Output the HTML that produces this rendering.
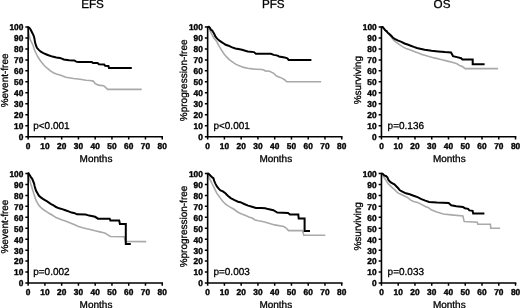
<!DOCTYPE html><html><head><meta charset="utf-8"><style>html,body{margin:0;padding:0;background:#fff;overflow:hidden;width:520px;height:308px;}svg{display:block;filter:blur(0.3px);}text{font-family:"Liberation Sans",sans-serif;text-rendering:geometricPrecision;fill:#000;stroke:#000;stroke-width:0.3px;}text.b{stroke-width:0.4px;}</style></head><body>
<svg width="520" height="308" viewBox="0 0 520 308">
<rect width="520" height="308" fill="#fff"/>
<text x="92.5" y="8.1" font-size="11.7" text-anchor="middle">EFS</text>
<text x="273.3" y="8.1" font-size="11.7" text-anchor="middle">PFS</text>
<text x="442.0" y="8.1" font-size="11.7" text-anchor="middle">OS</text>
<polyline points="28.15,26.95 28.30,29.00 28.60,31.80 29.10,34.40 29.60,37.00 30.20,39.60 31.40,41.80 32.30,44.00 33.00,45.20 34.10,48.80 35.10,51.40 36.40,54.00 37.80,56.80 39.70,59.70 42.20,63.10 44.60,66.00 47.50,68.40 50.40,70.90 53.40,72.80 56.30,74.10 60.00,75.10 65.80,77.30 73.60,78.50 80.10,79.20 86.00,80.20 89.90,80.50 93.20,81.10 95.20,83.50 98.40,85.10 103.60,85.80 105.60,87.40 107.60,89.40 141.70,89.40" fill="none" stroke="#a9a9a9" stroke-width="1.6" stroke-linejoin="miter"/>
<polyline points="28.15,26.95 29.40,27.90 30.40,29.20 31.20,30.80 32.20,32.80 33.30,34.90 34.10,37.00 34.60,39.60 35.10,42.60 35.90,45.20 36.90,47.80 38.80,49.90 40.80,51.70 43.40,53.20 46.50,54.50 48.50,55.30 52.40,56.60 56.30,57.40 60.00,58.00 61.80,58.60 63.80,59.50 69.00,60.30 74.30,60.50 76.20,61.60 78.20,62.10 91.80,62.10 93.10,63.10 97.60,63.10 98.90,64.30 104.10,64.40 105.10,65.70 108.40,65.90 109.00,67.90 131.80,67.90" fill="none" stroke="#000" stroke-width="2" stroke-linejoin="miter"/>
<path d="M28.15,26.95V136.75H162.23" fill="none" stroke="#000" stroke-width="1.6" stroke-linecap="square"/>
<path d="M25.35,136.75H28.15M25.35,125.77H28.15M25.35,114.79H28.15M25.35,103.81H28.15M25.35,92.83H28.15M25.35,81.85H28.15M25.35,70.87H28.15M25.35,59.89H28.15M25.35,48.91H28.15M25.35,37.93H28.15M25.35,26.95H28.15M28.15,136.75V139.45M44.91,136.75V139.45M61.67,136.75V139.45M78.43,136.75V139.45M95.19,136.75V139.45M111.95,136.75V139.45M128.71,136.75V139.45M145.47,136.75V139.45M162.23,136.75V139.45" stroke="#000" stroke-width="1.5" fill="none"/>
<text transform="translate(23.35,140.15) scale(0.98,1)" font-size="8.5" font-weight="bold" class="b" text-anchor="end">0</text>
<text transform="translate(23.35,129.17) scale(0.98,1)" font-size="8.5" font-weight="bold" class="b" text-anchor="end">10</text>
<text transform="translate(23.35,118.19) scale(0.98,1)" font-size="8.5" font-weight="bold" class="b" text-anchor="end">20</text>
<text transform="translate(23.35,107.21) scale(0.98,1)" font-size="8.5" font-weight="bold" class="b" text-anchor="end">30</text>
<text transform="translate(23.35,96.23) scale(0.98,1)" font-size="8.5" font-weight="bold" class="b" text-anchor="end">40</text>
<text transform="translate(23.35,85.25) scale(0.98,1)" font-size="8.5" font-weight="bold" class="b" text-anchor="end">50</text>
<text transform="translate(23.35,74.27) scale(0.98,1)" font-size="8.5" font-weight="bold" class="b" text-anchor="end">60</text>
<text transform="translate(23.35,63.29) scale(0.98,1)" font-size="8.5" font-weight="bold" class="b" text-anchor="end">70</text>
<text transform="translate(23.35,52.31) scale(0.98,1)" font-size="8.5" font-weight="bold" class="b" text-anchor="end">80</text>
<text transform="translate(23.35,41.33) scale(0.98,1)" font-size="8.5" font-weight="bold" class="b" text-anchor="end">90</text>
<text transform="translate(23.35,30.35) scale(0.98,1)" font-size="8.5" font-weight="bold" class="b" text-anchor="end">100</text>
<text transform="translate(28.15,148.75) scale(0.98,1)" font-size="8.5" font-weight="bold" class="b" text-anchor="middle">0</text>
<text transform="translate(44.91,148.75) scale(0.98,1)" font-size="8.5" font-weight="bold" class="b" text-anchor="middle">10</text>
<text transform="translate(61.67,148.75) scale(0.98,1)" font-size="8.5" font-weight="bold" class="b" text-anchor="middle">20</text>
<text transform="translate(78.43,148.75) scale(0.98,1)" font-size="8.5" font-weight="bold" class="b" text-anchor="middle">30</text>
<text transform="translate(95.19,148.75) scale(0.98,1)" font-size="8.5" font-weight="bold" class="b" text-anchor="middle">40</text>
<text transform="translate(111.95,148.75) scale(0.98,1)" font-size="8.5" font-weight="bold" class="b" text-anchor="middle">50</text>
<text transform="translate(128.71,148.75) scale(0.98,1)" font-size="8.5" font-weight="bold" class="b" text-anchor="middle">60</text>
<text transform="translate(145.47,148.75) scale(0.98,1)" font-size="8.5" font-weight="bold" class="b" text-anchor="middle">70</text>
<text transform="translate(162.23,148.75) scale(0.98,1)" font-size="8.5" font-weight="bold" class="b" text-anchor="middle">80</text>
<text transform="translate(7.95,80.40) rotate(-90)" x="0" y="0" font-size="10" text-anchor="middle">%event-free</text>
<text x="33.2" y="128.50" font-size="10">p<0.001</text>
<text x="96.0" y="161.80" font-size="10" text-anchor="middle">Months</text>
<polyline points="207.65,26.95 208.90,27.20 209.90,30.50 211.20,33.10 212.50,35.70 213.80,38.10 214.90,39.30 216.90,41.80 218.80,45.70 221.20,49.60 223.70,53.50 226.60,56.90 229.50,59.90 232.40,61.80 236.00,64.40 239.90,66.10 243.80,67.40 247.70,68.20 252.20,68.90 256.80,69.20 262.00,69.50 263.90,70.00 265.20,70.90 269.60,71.30 273.70,73.30 276.40,76.10 281.80,78.10 285.30,80.20 286.60,81.70 321.20,81.70" fill="none" stroke="#a9a9a9" stroke-width="1.6" stroke-linejoin="miter"/>
<polyline points="207.65,26.95 208.90,26.80 209.90,27.90 210.90,29.80 212.20,30.50 213.10,32.10 214.40,34.10 215.20,36.20 216.90,38.40 219.80,40.90 222.70,42.80 225.60,44.80 228.60,45.70 231.50,47.20 235.40,48.50 238.30,49.10 242.00,49.80 247.70,51.50 253.90,52.10 255.90,53.80 270.90,53.80 273.70,54.90 277.70,55.60 279.10,56.60 284.60,57.40 287.30,58.30 288.70,60.00 311.40,60.00" fill="none" stroke="#000" stroke-width="2" stroke-linejoin="miter"/>
<path d="M207.65,26.95V136.75H341.73" fill="none" stroke="#000" stroke-width="1.6" stroke-linecap="square"/>
<path d="M204.85,136.75H207.65M204.85,125.77H207.65M204.85,114.79H207.65M204.85,103.81H207.65M204.85,92.83H207.65M204.85,81.85H207.65M204.85,70.87H207.65M204.85,59.89H207.65M204.85,48.91H207.65M204.85,37.93H207.65M204.85,26.95H207.65M207.65,136.75V139.45M224.41,136.75V139.45M241.17,136.75V139.45M257.93,136.75V139.45M274.69,136.75V139.45M291.45,136.75V139.45M308.21,136.75V139.45M324.97,136.75V139.45M341.73,136.75V139.45" stroke="#000" stroke-width="1.5" fill="none"/>
<text transform="translate(202.85,140.15) scale(0.98,1)" font-size="8.5" font-weight="bold" class="b" text-anchor="end">0</text>
<text transform="translate(202.85,129.17) scale(0.98,1)" font-size="8.5" font-weight="bold" class="b" text-anchor="end">10</text>
<text transform="translate(202.85,118.19) scale(0.98,1)" font-size="8.5" font-weight="bold" class="b" text-anchor="end">20</text>
<text transform="translate(202.85,107.21) scale(0.98,1)" font-size="8.5" font-weight="bold" class="b" text-anchor="end">30</text>
<text transform="translate(202.85,96.23) scale(0.98,1)" font-size="8.5" font-weight="bold" class="b" text-anchor="end">40</text>
<text transform="translate(202.85,85.25) scale(0.98,1)" font-size="8.5" font-weight="bold" class="b" text-anchor="end">50</text>
<text transform="translate(202.85,74.27) scale(0.98,1)" font-size="8.5" font-weight="bold" class="b" text-anchor="end">60</text>
<text transform="translate(202.85,63.29) scale(0.98,1)" font-size="8.5" font-weight="bold" class="b" text-anchor="end">70</text>
<text transform="translate(202.85,52.31) scale(0.98,1)" font-size="8.5" font-weight="bold" class="b" text-anchor="end">80</text>
<text transform="translate(202.85,41.33) scale(0.98,1)" font-size="8.5" font-weight="bold" class="b" text-anchor="end">90</text>
<text transform="translate(202.85,30.35) scale(0.98,1)" font-size="8.5" font-weight="bold" class="b" text-anchor="end">100</text>
<text transform="translate(207.65,148.75) scale(0.98,1)" font-size="8.5" font-weight="bold" class="b" text-anchor="middle">0</text>
<text transform="translate(224.41,148.75) scale(0.98,1)" font-size="8.5" font-weight="bold" class="b" text-anchor="middle">10</text>
<text transform="translate(241.17,148.75) scale(0.98,1)" font-size="8.5" font-weight="bold" class="b" text-anchor="middle">20</text>
<text transform="translate(257.93,148.75) scale(0.98,1)" font-size="8.5" font-weight="bold" class="b" text-anchor="middle">30</text>
<text transform="translate(274.69,148.75) scale(0.98,1)" font-size="8.5" font-weight="bold" class="b" text-anchor="middle">40</text>
<text transform="translate(291.45,148.75) scale(0.98,1)" font-size="8.5" font-weight="bold" class="b" text-anchor="middle">50</text>
<text transform="translate(308.21,148.75) scale(0.98,1)" font-size="8.5" font-weight="bold" class="b" text-anchor="middle">60</text>
<text transform="translate(324.97,148.75) scale(0.98,1)" font-size="8.5" font-weight="bold" class="b" text-anchor="middle">70</text>
<text transform="translate(341.73,148.75) scale(0.98,1)" font-size="8.5" font-weight="bold" class="b" text-anchor="middle">80</text>
<text transform="translate(187.45,80.30) rotate(-90)" x="0" y="0" font-size="10" text-anchor="middle">%progression-free</text>
<text x="213.4" y="128.50" font-size="10">p<0.001</text>
<text x="275.8" y="161.80" font-size="10" text-anchor="middle">Months</text>
<polyline points="381.45,26.95 382.60,26.90 383.90,28.50 385.20,30.20 386.50,31.30 387.80,33.00 389.10,34.40 390.40,36.00 391.70,37.60 393.60,40.20 396.70,42.60 399.80,44.90 402.90,46.90 406.00,48.40 409.10,49.60 412.30,50.80 415.40,51.90 418.50,53.10 422.00,54.50 427.40,56.10 434.20,57.90 440.90,59.50 447.60,61.10 453.00,62.50 457.00,63.80 459.70,65.60 462.40,66.50 465.10,68.60 498.10,68.60" fill="none" stroke="#a9a9a9" stroke-width="1.6" stroke-linejoin="miter"/>
<polyline points="381.45,26.95 382.60,26.90 383.90,28.50 385.20,30.20 386.50,31.10 387.80,32.80 389.10,33.70 390.40,35.00 391.70,36.30 393.00,37.80 395.10,39.10 398.20,40.60 401.40,41.80 404.50,43.50 407.60,44.50 410.70,45.70 413.80,46.90 416.90,48.00 420.10,48.70 424.70,49.80 431.50,50.70 438.20,51.40 444.90,52.10 451.00,52.50 452.30,54.80 453.00,56.10 457.00,57.10 461.10,58.20 462.40,59.50 472.70,59.50 472.70,64.20 484.60,64.20" fill="none" stroke="#000" stroke-width="2" stroke-linejoin="miter"/>
<path d="M381.45,26.95V136.75H515.53" fill="none" stroke="#000" stroke-width="1.6" stroke-linecap="square"/>
<path d="M378.65,136.75H381.45M378.65,125.77H381.45M378.65,114.79H381.45M378.65,103.81H381.45M378.65,92.83H381.45M378.65,81.85H381.45M378.65,70.87H381.45M378.65,59.89H381.45M378.65,48.91H381.45M378.65,37.93H381.45M378.65,26.95H381.45M381.45,136.75V139.45M398.21,136.75V139.45M414.97,136.75V139.45M431.73,136.75V139.45M448.49,136.75V139.45M465.25,136.75V139.45M482.01,136.75V139.45M498.77,136.75V139.45M515.53,136.75V139.45" stroke="#000" stroke-width="1.5" fill="none"/>
<text transform="translate(376.65,140.15) scale(0.98,1)" font-size="8.5" font-weight="bold" class="b" text-anchor="end">0</text>
<text transform="translate(376.65,129.17) scale(0.98,1)" font-size="8.5" font-weight="bold" class="b" text-anchor="end">10</text>
<text transform="translate(376.65,118.19) scale(0.98,1)" font-size="8.5" font-weight="bold" class="b" text-anchor="end">20</text>
<text transform="translate(376.65,107.21) scale(0.98,1)" font-size="8.5" font-weight="bold" class="b" text-anchor="end">30</text>
<text transform="translate(376.65,96.23) scale(0.98,1)" font-size="8.5" font-weight="bold" class="b" text-anchor="end">40</text>
<text transform="translate(376.65,85.25) scale(0.98,1)" font-size="8.5" font-weight="bold" class="b" text-anchor="end">50</text>
<text transform="translate(376.65,74.27) scale(0.98,1)" font-size="8.5" font-weight="bold" class="b" text-anchor="end">60</text>
<text transform="translate(376.65,63.29) scale(0.98,1)" font-size="8.5" font-weight="bold" class="b" text-anchor="end">70</text>
<text transform="translate(376.65,52.31) scale(0.98,1)" font-size="8.5" font-weight="bold" class="b" text-anchor="end">80</text>
<text transform="translate(376.65,41.33) scale(0.98,1)" font-size="8.5" font-weight="bold" class="b" text-anchor="end">90</text>
<text transform="translate(376.65,30.35) scale(0.98,1)" font-size="8.5" font-weight="bold" class="b" text-anchor="end">100</text>
<text transform="translate(381.45,148.75) scale(0.98,1)" font-size="8.5" font-weight="bold" class="b" text-anchor="middle">0</text>
<text transform="translate(398.21,148.75) scale(0.98,1)" font-size="8.5" font-weight="bold" class="b" text-anchor="middle">10</text>
<text transform="translate(414.97,148.75) scale(0.98,1)" font-size="8.5" font-weight="bold" class="b" text-anchor="middle">20</text>
<text transform="translate(431.73,148.75) scale(0.98,1)" font-size="8.5" font-weight="bold" class="b" text-anchor="middle">30</text>
<text transform="translate(448.49,148.75) scale(0.98,1)" font-size="8.5" font-weight="bold" class="b" text-anchor="middle">40</text>
<text transform="translate(465.25,148.75) scale(0.98,1)" font-size="8.5" font-weight="bold" class="b" text-anchor="middle">50</text>
<text transform="translate(482.01,148.75) scale(0.98,1)" font-size="8.5" font-weight="bold" class="b" text-anchor="middle">60</text>
<text transform="translate(498.77,148.75) scale(0.98,1)" font-size="8.5" font-weight="bold" class="b" text-anchor="middle">70</text>
<text transform="translate(515.53,148.75) scale(0.98,1)" font-size="8.5" font-weight="bold" class="b" text-anchor="middle">80</text>
<text transform="translate(361.25,80.20) rotate(-90)" x="0" y="0" font-size="10" text-anchor="middle">%surviving</text>
<text x="387.6" y="128.50" font-size="10">p=0.136</text>
<text x="449.3" y="161.80" font-size="10" text-anchor="middle">Months</text>
<polyline points="28.15,173.55 28.60,176.50 29.60,179.70 30.50,183.00 31.50,186.20 32.70,190.20 33.90,194.10 34.60,196.00 35.60,199.10 36.70,201.70 38.20,204.30 39.80,206.40 41.90,208.50 43.90,210.00 46.50,211.60 49.00,213.30 52.50,215.30 56.00,217.60 59.10,218.80 62.20,220.00 65.40,221.10 68.50,222.30 71.60,223.50 74.70,224.70 77.80,226.20 83.40,228.00 89.20,229.20 95.10,230.80 100.90,232.10 105.30,233.30 108.20,235.10 110.40,236.50 124.30,236.80 125.30,241.50 146.20,241.60" fill="none" stroke="#a9a9a9" stroke-width="1.6" stroke-linejoin="miter"/>
<polyline points="28.15,173.55 28.60,173.30 29.60,174.90 30.90,177.10 32.20,178.80 33.10,181.00 34.10,183.60 34.60,186.00 35.10,187.90 36.20,191.00 37.80,193.70 38.80,195.60 40.80,197.40 42.90,198.90 45.00,200.20 47.10,201.40 50.70,203.80 54.40,205.90 56.00,207.00 59.10,208.30 62.20,209.10 65.40,210.20 68.50,211.40 71.60,212.60 74.70,213.20 77.00,214.30 85.60,214.60 89.20,215.60 95.10,216.80 98.00,218.70 109.70,218.70 110.40,220.50 119.20,220.50 119.90,223.90 125.80,223.90 125.80,243.90 130.80,243.90" fill="none" stroke="#000" stroke-width="2" stroke-linejoin="miter"/>
<path d="M28.15,173.55V282.95H162.23" fill="none" stroke="#000" stroke-width="1.6" stroke-linecap="square"/>
<path d="M25.35,282.95H28.15M25.35,272.01H28.15M25.35,261.07H28.15M25.35,250.13H28.15M25.35,239.19H28.15M25.35,228.25H28.15M25.35,217.31H28.15M25.35,206.37H28.15M25.35,195.43H28.15M25.35,184.49H28.15M25.35,173.55H28.15M28.15,282.95V285.65M44.91,282.95V285.65M61.67,282.95V285.65M78.43,282.95V285.65M95.19,282.95V285.65M111.95,282.95V285.65M128.71,282.95V285.65M145.47,282.95V285.65M162.23,282.95V285.65" stroke="#000" stroke-width="1.5" fill="none"/>
<text transform="translate(23.35,286.35) scale(0.98,1)" font-size="8.5" font-weight="bold" class="b" text-anchor="end">0</text>
<text transform="translate(23.35,275.41) scale(0.98,1)" font-size="8.5" font-weight="bold" class="b" text-anchor="end">10</text>
<text transform="translate(23.35,264.47) scale(0.98,1)" font-size="8.5" font-weight="bold" class="b" text-anchor="end">20</text>
<text transform="translate(23.35,253.53) scale(0.98,1)" font-size="8.5" font-weight="bold" class="b" text-anchor="end">30</text>
<text transform="translate(23.35,242.59) scale(0.98,1)" font-size="8.5" font-weight="bold" class="b" text-anchor="end">40</text>
<text transform="translate(23.35,231.65) scale(0.98,1)" font-size="8.5" font-weight="bold" class="b" text-anchor="end">50</text>
<text transform="translate(23.35,220.71) scale(0.98,1)" font-size="8.5" font-weight="bold" class="b" text-anchor="end">60</text>
<text transform="translate(23.35,209.77) scale(0.98,1)" font-size="8.5" font-weight="bold" class="b" text-anchor="end">70</text>
<text transform="translate(23.35,198.83) scale(0.98,1)" font-size="8.5" font-weight="bold" class="b" text-anchor="end">80</text>
<text transform="translate(23.35,187.89) scale(0.98,1)" font-size="8.5" font-weight="bold" class="b" text-anchor="end">90</text>
<text transform="translate(23.35,176.95) scale(0.98,1)" font-size="8.5" font-weight="bold" class="b" text-anchor="end">100</text>
<text transform="translate(28.15,294.95) scale(0.98,1)" font-size="8.5" font-weight="bold" class="b" text-anchor="middle">0</text>
<text transform="translate(44.91,294.95) scale(0.98,1)" font-size="8.5" font-weight="bold" class="b" text-anchor="middle">10</text>
<text transform="translate(61.67,294.95) scale(0.98,1)" font-size="8.5" font-weight="bold" class="b" text-anchor="middle">20</text>
<text transform="translate(78.43,294.95) scale(0.98,1)" font-size="8.5" font-weight="bold" class="b" text-anchor="middle">30</text>
<text transform="translate(95.19,294.95) scale(0.98,1)" font-size="8.5" font-weight="bold" class="b" text-anchor="middle">40</text>
<text transform="translate(111.95,294.95) scale(0.98,1)" font-size="8.5" font-weight="bold" class="b" text-anchor="middle">50</text>
<text transform="translate(128.71,294.95) scale(0.98,1)" font-size="8.5" font-weight="bold" class="b" text-anchor="middle">60</text>
<text transform="translate(145.47,294.95) scale(0.98,1)" font-size="8.5" font-weight="bold" class="b" text-anchor="middle">70</text>
<text transform="translate(162.23,294.95) scale(0.98,1)" font-size="8.5" font-weight="bold" class="b" text-anchor="middle">80</text>
<text transform="translate(7.95,226.60) rotate(-90)" x="0" y="0" font-size="10" text-anchor="middle">%event-free</text>
<text x="33.2" y="275.30" font-size="10">p=0.002</text>
<text x="96.0" y="308.00" font-size="10" text-anchor="middle">Months</text>
<polyline points="207.65,173.55 208.50,175.50 209.10,177.80 210.70,180.90 212.20,184.00 213.80,187.10 215.40,190.30 216.90,193.40 218.50,195.50 220.00,197.60 222.90,201.50 225.80,204.40 229.70,206.90 233.60,209.00 238.00,212.20 241.10,213.70 245.00,215.30 248.90,216.90 252.00,218.00 255.10,220.00 258.30,220.80 261.40,221.30 264.50,222.10 268.00,223.10 274.60,224.90 283.80,226.50 286.20,228.00 288.50,230.60 302.50,230.60 303.10,232.80 303.80,235.20 325.30,235.20" fill="none" stroke="#a9a9a9" stroke-width="1.6" stroke-linejoin="miter"/>
<polyline points="207.65,173.55 208.70,173.90 210.30,175.50 212.20,177.40 213.40,178.20 214.20,180.90 215.40,183.60 216.90,186.40 218.90,188.90 220.50,190.50 222.90,191.40 225.40,193.30 227.80,195.70 230.70,198.10 234.60,200.10 238.00,201.70 240.40,202.20 244.20,204.00 248.10,205.60 252.00,206.70 255.90,207.90 261.40,207.90 265.30,208.30 268.00,209.10 273.40,210.20 277.30,212.50 288.00,212.90 290.00,214.50 298.30,214.50 298.70,218.40 304.60,218.40 304.60,231.00 310.00,231.00" fill="none" stroke="#000" stroke-width="2" stroke-linejoin="miter"/>
<path d="M207.65,173.55V282.95H341.73" fill="none" stroke="#000" stroke-width="1.6" stroke-linecap="square"/>
<path d="M204.85,282.95H207.65M204.85,272.01H207.65M204.85,261.07H207.65M204.85,250.13H207.65M204.85,239.19H207.65M204.85,228.25H207.65M204.85,217.31H207.65M204.85,206.37H207.65M204.85,195.43H207.65M204.85,184.49H207.65M204.85,173.55H207.65M207.65,282.95V285.65M224.41,282.95V285.65M241.17,282.95V285.65M257.93,282.95V285.65M274.69,282.95V285.65M291.45,282.95V285.65M308.21,282.95V285.65M324.97,282.95V285.65M341.73,282.95V285.65" stroke="#000" stroke-width="1.5" fill="none"/>
<text transform="translate(202.85,286.35) scale(0.98,1)" font-size="8.5" font-weight="bold" class="b" text-anchor="end">0</text>
<text transform="translate(202.85,275.41) scale(0.98,1)" font-size="8.5" font-weight="bold" class="b" text-anchor="end">10</text>
<text transform="translate(202.85,264.47) scale(0.98,1)" font-size="8.5" font-weight="bold" class="b" text-anchor="end">20</text>
<text transform="translate(202.85,253.53) scale(0.98,1)" font-size="8.5" font-weight="bold" class="b" text-anchor="end">30</text>
<text transform="translate(202.85,242.59) scale(0.98,1)" font-size="8.5" font-weight="bold" class="b" text-anchor="end">40</text>
<text transform="translate(202.85,231.65) scale(0.98,1)" font-size="8.5" font-weight="bold" class="b" text-anchor="end">50</text>
<text transform="translate(202.85,220.71) scale(0.98,1)" font-size="8.5" font-weight="bold" class="b" text-anchor="end">60</text>
<text transform="translate(202.85,209.77) scale(0.98,1)" font-size="8.5" font-weight="bold" class="b" text-anchor="end">70</text>
<text transform="translate(202.85,198.83) scale(0.98,1)" font-size="8.5" font-weight="bold" class="b" text-anchor="end">80</text>
<text transform="translate(202.85,187.89) scale(0.98,1)" font-size="8.5" font-weight="bold" class="b" text-anchor="end">90</text>
<text transform="translate(202.85,176.95) scale(0.98,1)" font-size="8.5" font-weight="bold" class="b" text-anchor="end">100</text>
<text transform="translate(207.65,294.95) scale(0.98,1)" font-size="8.5" font-weight="bold" class="b" text-anchor="middle">0</text>
<text transform="translate(224.41,294.95) scale(0.98,1)" font-size="8.5" font-weight="bold" class="b" text-anchor="middle">10</text>
<text transform="translate(241.17,294.95) scale(0.98,1)" font-size="8.5" font-weight="bold" class="b" text-anchor="middle">20</text>
<text transform="translate(257.93,294.95) scale(0.98,1)" font-size="8.5" font-weight="bold" class="b" text-anchor="middle">30</text>
<text transform="translate(274.69,294.95) scale(0.98,1)" font-size="8.5" font-weight="bold" class="b" text-anchor="middle">40</text>
<text transform="translate(291.45,294.95) scale(0.98,1)" font-size="8.5" font-weight="bold" class="b" text-anchor="middle">50</text>
<text transform="translate(308.21,294.95) scale(0.98,1)" font-size="8.5" font-weight="bold" class="b" text-anchor="middle">60</text>
<text transform="translate(324.97,294.95) scale(0.98,1)" font-size="8.5" font-weight="bold" class="b" text-anchor="middle">70</text>
<text transform="translate(341.73,294.95) scale(0.98,1)" font-size="8.5" font-weight="bold" class="b" text-anchor="middle">80</text>
<text transform="translate(187.45,226.50) rotate(-90)" x="0" y="0" font-size="10" text-anchor="middle">%progression-free</text>
<text x="213.4" y="275.30" font-size="10">p=0.003</text>
<text x="275.8" y="308.00" font-size="10" text-anchor="middle">Months</text>
<polyline points="381.45,173.55 382.70,174.50 383.10,176.20 385.50,179.40 387.80,183.30 390.10,185.60 392.50,187.90 394.80,189.90 397.10,192.20 398.70,193.40 400.90,194.20 403.80,195.70 407.70,197.60 410.70,200.10 413.60,201.50 417.50,202.50 421.40,204.40 425.30,206.40 428.00,207.40 431.70,210.10 436.90,212.10 443.40,214.00 451.20,214.90 462.90,216.00 464.20,221.60 477.30,222.20 477.80,224.20 490.40,224.20 490.80,228.20 500.20,228.20" fill="none" stroke="#a9a9a9" stroke-width="1.6" stroke-linejoin="miter"/>
<polyline points="381.45,173.55 382.70,173.90 384.30,175.50 386.20,176.20 387.40,177.40 388.60,180.10 390.50,182.10 392.50,183.30 394.40,184.40 396.00,186.00 398.00,188.00 399.90,190.30 401.90,191.30 405.80,193.30 409.70,194.20 413.60,195.70 417.50,197.10 421.40,199.10 425.30,200.60 429.10,201.90 436.90,202.60 448.60,203.00 451.20,205.30 456.40,206.20 462.90,206.90 464.80,208.20 468.10,208.80 469.40,210.40 472.60,210.80 473.20,213.40 484.40,213.40" fill="none" stroke="#000" stroke-width="2" stroke-linejoin="miter"/>
<path d="M381.45,173.55V282.95H515.53" fill="none" stroke="#000" stroke-width="1.6" stroke-linecap="square"/>
<path d="M378.65,282.95H381.45M378.65,272.01H381.45M378.65,261.07H381.45M378.65,250.13H381.45M378.65,239.19H381.45M378.65,228.25H381.45M378.65,217.31H381.45M378.65,206.37H381.45M378.65,195.43H381.45M378.65,184.49H381.45M378.65,173.55H381.45M381.45,282.95V285.65M398.21,282.95V285.65M414.97,282.95V285.65M431.73,282.95V285.65M448.49,282.95V285.65M465.25,282.95V285.65M482.01,282.95V285.65M498.77,282.95V285.65M515.53,282.95V285.65" stroke="#000" stroke-width="1.5" fill="none"/>
<text transform="translate(376.65,286.35) scale(0.98,1)" font-size="8.5" font-weight="bold" class="b" text-anchor="end">0</text>
<text transform="translate(376.65,275.41) scale(0.98,1)" font-size="8.5" font-weight="bold" class="b" text-anchor="end">10</text>
<text transform="translate(376.65,264.47) scale(0.98,1)" font-size="8.5" font-weight="bold" class="b" text-anchor="end">20</text>
<text transform="translate(376.65,253.53) scale(0.98,1)" font-size="8.5" font-weight="bold" class="b" text-anchor="end">30</text>
<text transform="translate(376.65,242.59) scale(0.98,1)" font-size="8.5" font-weight="bold" class="b" text-anchor="end">40</text>
<text transform="translate(376.65,231.65) scale(0.98,1)" font-size="8.5" font-weight="bold" class="b" text-anchor="end">50</text>
<text transform="translate(376.65,220.71) scale(0.98,1)" font-size="8.5" font-weight="bold" class="b" text-anchor="end">60</text>
<text transform="translate(376.65,209.77) scale(0.98,1)" font-size="8.5" font-weight="bold" class="b" text-anchor="end">70</text>
<text transform="translate(376.65,198.83) scale(0.98,1)" font-size="8.5" font-weight="bold" class="b" text-anchor="end">80</text>
<text transform="translate(376.65,187.89) scale(0.98,1)" font-size="8.5" font-weight="bold" class="b" text-anchor="end">90</text>
<text transform="translate(376.65,176.95) scale(0.98,1)" font-size="8.5" font-weight="bold" class="b" text-anchor="end">100</text>
<text transform="translate(381.45,294.95) scale(0.98,1)" font-size="8.5" font-weight="bold" class="b" text-anchor="middle">0</text>
<text transform="translate(398.21,294.95) scale(0.98,1)" font-size="8.5" font-weight="bold" class="b" text-anchor="middle">10</text>
<text transform="translate(414.97,294.95) scale(0.98,1)" font-size="8.5" font-weight="bold" class="b" text-anchor="middle">20</text>
<text transform="translate(431.73,294.95) scale(0.98,1)" font-size="8.5" font-weight="bold" class="b" text-anchor="middle">30</text>
<text transform="translate(448.49,294.95) scale(0.98,1)" font-size="8.5" font-weight="bold" class="b" text-anchor="middle">40</text>
<text transform="translate(465.25,294.95) scale(0.98,1)" font-size="8.5" font-weight="bold" class="b" text-anchor="middle">50</text>
<text transform="translate(482.01,294.95) scale(0.98,1)" font-size="8.5" font-weight="bold" class="b" text-anchor="middle">60</text>
<text transform="translate(498.77,294.95) scale(0.98,1)" font-size="8.5" font-weight="bold" class="b" text-anchor="middle">70</text>
<text transform="translate(515.53,294.95) scale(0.98,1)" font-size="8.5" font-weight="bold" class="b" text-anchor="middle">80</text>
<text transform="translate(361.25,226.40) rotate(-90)" x="0" y="0" font-size="10" text-anchor="middle">%surviving</text>
<text x="387.6" y="275.30" font-size="10">p=0.033</text>
<text x="449.3" y="308.00" font-size="10" text-anchor="middle">Months</text>
</svg></body></html>
